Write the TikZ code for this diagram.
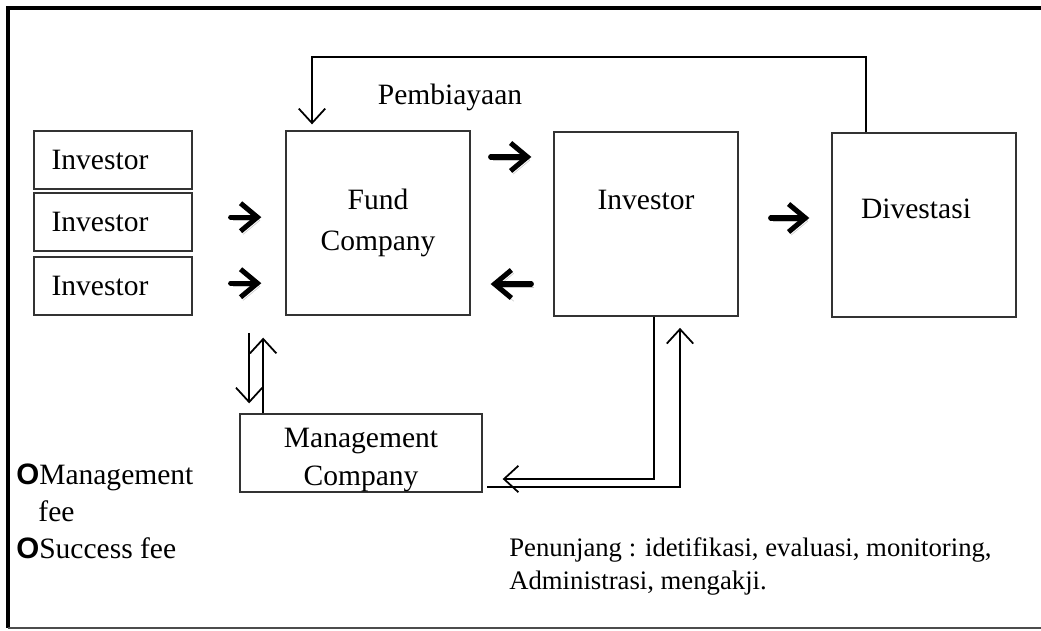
\documentclass[tikz,border=0pt]{standalone}
\usepackage{fontspec}
\setmainfont{Liberation Serif}
\newfontfamily\bulletfont{Liberation Sans}
\usetikzlibrary{arrows.meta,positioning}
\newcommand{\feebullet}{{\bulletfont\bfseries\fontsize{21}{21}\selectfont O}}

\begin{document}
\begin{tikzpicture}[
    x=0.025cm, y=-0.025cm,
    font=\fontsize{21}{29}\selectfont,
    box/.style={draw=black!80, line width=0.9pt, rectangle, inner sep=0pt, align=center},
    invbox/.style={box, text width=3.07cm, inner xsep=0.44cm, align=left, minimum height=1.45cm},
    bigbox/.style={box, minimum width=4.6cm, minimum height=4.6cm},
    link/.style={-{Straight Barb[length=3.6mm, width=6.6mm]}, line width=1.25pt},
    fat/.style={-{Straight Barb[length=4.2mm, width=7mm]}, line width=3.6pt, line cap=round,
        preaction={draw=black!22, transform canvas={shift={(0.06cm,-0.08cm)}}}}
]
    \useasboundingbox (0,0) rectangle (1041,631);

    % --- frame ---
    \draw[line width=3.2pt] (1041,8) -- (8,8) -- (8,628);
    \draw[black!70, line width=1.2pt] (8,628) -- (1041,628);

    % --- investors ---
    \node[invbox] (inv1) at (113,160) {Investor};
    \node[invbox] (inv2) at (113,222) {Investor};
    \node[invbox] (inv3) at (113,286) {Investor};

    % --- main chain ---
    \node[bigbox] (fund) at (378,223) {Fund\\Company};
    \node[bigbox] (invc) at (646,224) {};
    \node (invctxt) [below=1.35cm of invc.north] {Investor};
    \node[bigbox] (dives) at (924,225) {};
    \node (divtxt) [below=1.55cm of dives.north, xshift=-0.2cm] {Divestasi};
    \node[box, minimum width=6.05cm, minimum height=1.95cm] (mgmt) at (361,453) {};
    \node[align=center, font=\fontsize{21}{27}\selectfont] (mgmttxt) at (361,460) {Management\\Company};

    % --- fat arrows ---
    \draw[fat, shorten <=0.95cm, shorten >=0.6cm] ([yshift=0.12cm]inv2.east) -- ([yshift=0.12cm]inv2.east -| fund.west);
    \draw[fat, shorten <=0.95cm, shorten >=0.6cm] ([yshift=0.07cm]inv3.east) -- ([yshift=0.07cm]inv3.east -| fund.west);
    \draw[fat, shorten <=0.5cm, shorten >=0.55cm] ([yshift=1.65cm]fund.east) -- ([yshift=1.65cm]fund.east -| invc.west);
    \draw[fat, shorten <=0.55cm, shorten >=0.5cm] ([yshift=-1.5cm]invc.west) -- ([yshift=-1.5cm]invc.west -| fund.east);
    \draw[fat, shorten <=0.8cm, shorten >=0.55cm] ([yshift=0.15cm]invc.east) -- ([yshift=0.15cm]invc.east -| dives.west);

    % --- financing loop ---
    \coordinate (looptop) at (312,57);
    \draw[link, shorten >=0.15cm] ([xshift=-1.45cm]dives.north) |- (looptop) -- (looptop |- fund.north);
    \node (pemb) at (450,97) {Pembiayaan};

    % --- fund <-> management ---
    \draw[link, shorten <=0.43cm, shorten >=0.25cm] ([xshift=-3.22cm]fund.south) -- ([xshift=-3.22cm]fund.south |- mgmt.north);
    \draw[link, shorten >=0.55cm] ([xshift=-2.87cm]fund.south |- mgmt.north) -- ([xshift=-2.87cm]fund.south);

    % --- investee <-> management ---
    \draw[link, shorten >=0.5cm] ([xshift=0.2cm]invc.south) |- ([yshift=-0.65cm]mgmt.east);
    \draw[link, shorten >=0.28cm] ([yshift=-0.85cm, xshift=0.12cm]mgmt.east) -| ([xshift=0.85cm]invc.south);

    % --- notes ---
    \node[anchor=north west, align=left, inner sep=0pt, font=\fontsize{21}{26}\selectfont] (fees) at (16,464)
        {\feebullet Management\\\hspace{0.75em}fee\\\feebullet Success fee};
    \node[anchor=north west, align=left, inner sep=0pt, font=\fontsize{19}{24}\selectfont] (penunjang) at (509,537)
        {Penunjang : idetifikasi, evaluasi, monitoring,\\Administrasi, mengakji.};
\end{tikzpicture}
\end{document}
